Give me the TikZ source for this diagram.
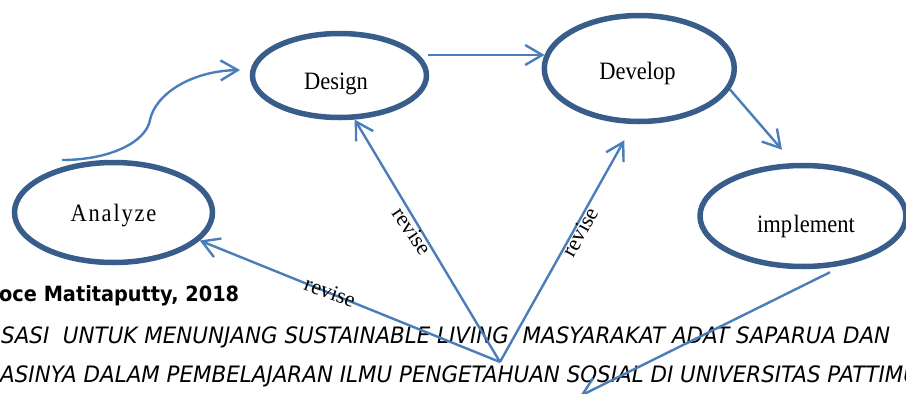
\documentclass[tikz,border=0pt]{standalone}
\usepackage{fontspec}
\usepackage{graphicx}
\setmainfont{Liberation Serif}
\newfontfamily\capsans{DejaVu Sans}
\newfontfamily\wideserif[LetterSpace=8]{Liberation Serif}
\usetikzlibrary{shapes.geometric,arrows.meta}
\definecolor{ringblue}{HTML}{385D8A}
\definecolor{flowblue}{HTML}{4A7EBB}
\newcommand{\phasefont}{\fontsize{25}{27}\selectfont}

\begin{document}
\begin{tikzpicture}[x=1pt,y=-1pt,
  phase/.style={ellipse, draw=ringblue, line width=5.5pt, fill=white, inner sep=0pt},
  flow/.style={draw=flowblue, line width=2.4pt,
    -{Straight Barb[length=17pt,width=20pt]}},
  lbl/.style={inner sep=0pt, anchor=base},
  rev/.style={font=\fontsize{22}{24}\selectfont, inner sep=0pt},
  band/.style={inner sep=0pt, anchor=base west}
]
\clip (0,0) rectangle (906,394);

% running text of the page behind the diagram
\node[band] (byline) at (-1,301)
  {\scalebox{0.92}[1]{\fontsize{21}{24}\selectfont\capsans\bfseries oce Matitaputty, 2018}};
\node[band] (titleA) at (1,343)
  {\scalebox{0.948}[1]{\fontsize{22.6}{26}\selectfont\capsans\itshape SASI\ \ UNTUK MENUNJANG SUSTAINABLE LIVING\ \ MASYARAKAT ADAT SAPARUA DAN}};
\node[band] (titleB) at (0,382)
  {\scalebox{0.948}[1]{\fontsize{22.6}{26}\selectfont\capsans\itshape ASINYA DALAM PEMBELAJARAN ILMU PENGETAHUAN SOSIAL DI UNIVERSITAS PATTIMU}};

% the four phases
\node[phase, minimum width=198pt, minimum height=100pt] (Analyze) at (113.5,212.5) {};
\node[phase, minimum width=174pt, minimum height=84pt]  (Design)  at (339.5,75.5) {};
\node[phase, minimum width=190pt, minimum height=106pt] (Develop) at (639.3,68.5) {};
\node[phase, minimum width=206pt, minimum height=101pt] (implement) at (803,216) {};

\node[lbl] (AnalyzeText) at (113.5,221) {\scalebox{0.9}[1]{\phasefont\wideserif Analyze}};
\node[lbl] (DesignText) at (336,89) {\scalebox{0.9}[1]{\phasefont Design}};
\node[lbl] (DevelopText) at (637.5,79) {\scalebox{0.9}[1]{\phasefont Develop}};
\node[lbl] (implementText) at (806,232) {\scalebox{0.9}[1]{\phasefont imp\kern1.5pt lement}};

% connectors
\coordinate (hub) at (500,362);
\coordinate (curveStart) at (62,160);
\coordinate (curveEnd) at (240,70);
\coordinate (exitEnd) at (580,396);

\draw[flow] (curveStart) .. controls (110,160) and (146,142) .. (150,120)
  .. controls (155,95) and (190,71) .. (curveEnd);
\draw[flow] ([shift={(-1,-20.5)}]Design.east) -- ([shift={(3,-13.5)}]Develop.west);
\draw[flow] (Develop.-13) -- ([shift={(-21,-13)}]implement.north);
\draw[flow] (hub) -- (Analyze.-18);
\draw[flow] (hub) -- (Design.-71);
\draw[flow] (hub) -- ([shift={(-15,16)}]Develop.south);
\draw[flow] ([shift={(27,3)}]implement.south) -- (exitEnd);

% edge labels
\node[rev, rotate=-20] (revA) at (330,292) {revise};
\node[rev, rotate=-56] (revB) at (412,231) {revise};
\node[rev, rotate=61]  (revC) at (580,232) {revise};
\end{tikzpicture}
\end{document}
